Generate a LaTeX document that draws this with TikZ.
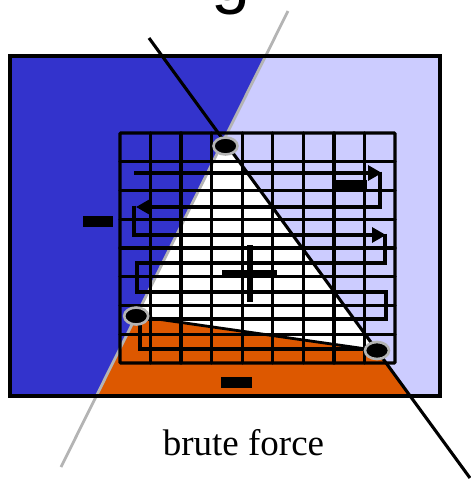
\documentclass[tikz,border=0pt]{standalone}
\usepackage{fontspec}
\setmainfont{Liberation Serif}
\newfontfamily\headfont{Liberation Sans}
\usepackage{tikz}
\usepackage{xcolor}
\usetikzlibrary{arrows.meta, shapes.geometric, calc}
\definecolor{myBlue}{RGB}{51,51,204}
\definecolor{myLight}{RGB}{204,204,255}
\definecolor{myOrange}{RGB}{221,88,0}
\definecolor{mGray}{HTML}{B4B4B4}

\begin{document}
\begin{tikzpicture}[x=1pt, y=-1pt,
  cell/.style={line width=3.3pt, line cap=round, rounded corners=1pt},
  scan/.style={line width=3.1pt, line join=miter},
  scanarrow/.style={scan, -{Triangle[length=14pt, width=15pt]}},
  vertex/.style={ellipse, fill=black, draw=mGray, line width=2.6pt,
                 minimum width=24pt, minimum height=17pt, inner sep=0pt},
  sign/.style={fill=black, inner sep=0pt, minimum height=11pt},
]
  \useasboundingbox (0,0) rectangle (471,483);
  \clip (0,0) rectangle (471,483);

  \coordinate (gA) at (288,11);
  \coordinate (gB) at (61,467);
  \coordinate (bA) at (149,38);
  \coordinate (bB) at (470,478);
  \coordinate (T) at (intersection of gA--gB and bA--bB);
  \coordinate (L) at (intersection of gA--gB and 0,316--1,316);
  \coordinate (R) at (intersection of bA--bB and 0,350.5--1,350.5);
  \coordinate (gTop) at (intersection of gA--gB and 10,56--440,56);
  \coordinate (gBot) at (intersection of gA--gB and 10,396--440,396);
  \coordinate (bBot) at (intersection of bA--bB and 10,396--440,396);

  \fill[myBlue] (10,56) rectangle (440,396);
  \fill[myLight] (gTop) -- (440,56) -- (440,396) -- (gBot) -- cycle;
  \fill[white] (T) -- (L) -- (R) -- cycle;
  \fill[myOrange] (L) -- (R) -- (bBot) -- (gBot) -- cycle;

  \draw[mGray, line width=2.8pt] (gA) -- (gB);
  \draw[line width=3.1pt] (bA) -- (bB);
  \draw[line width=2.8pt] (L) -- (R);

  \draw[cell] (120,133) rectangle (395,363);
  \foreach \i in {1,...,8}
    \draw[cell] ({120+\i*275/9},133) -- ({120+\i*275/9},363);
  \foreach \j in {1,...,7}
    \draw[cell] (120,{133+\j*230/8}) -- (395,{133+\j*230/8});

  \draw[scanarrow] (134,173) -- (382,173);
  \draw[scanarrow] (380,171.5) -- (380,207) -- (136,207);
  \draw[scanarrow] (134,205.5) -- (134,235) -- (386,235);
  \draw[scan] (385,233.5) -- (385,263) -- (137,263) -- (137,292) -- (386,292)
    -- (386,319) -- (140,319) -- (140,349) -- (372,349);

  \draw[line width=3.2pt] (10,56) rectangle (440,396);

  \node[vertex] (vT) at (225.5,146) {};
  \node[vertex] (vL) at (L) {};
  \node[vertex] (vR) at (R) {};

  \node[sign, minimum width=30pt] (mLeft) at (98,221.5) {};
  \node[sign, minimum width=32pt, minimum height=10pt] (mRight) at (351,185) {};
  \node[sign, minimum width=31pt] (mBottom) at (236.5,382.5) {};
  \node[sign, minimum width=55pt, minimum height=7pt] (plusH) at (249.5,273.5) {};
  \node[sign, minimum width=6pt, minimum height=57pt] (plusV) at (250,273.5) {};

  \node[anchor=base west, inner sep=0pt, font=\headfont\fontsize{70}{80}\selectfont]
    (head) at (211.5,0) {g};
  \node[anchor=base, inner sep=0pt, font=\fontsize{37}{44}\selectfont]
    (label) at (243.5,455) {brute force};
\end{tikzpicture}
\end{document}
